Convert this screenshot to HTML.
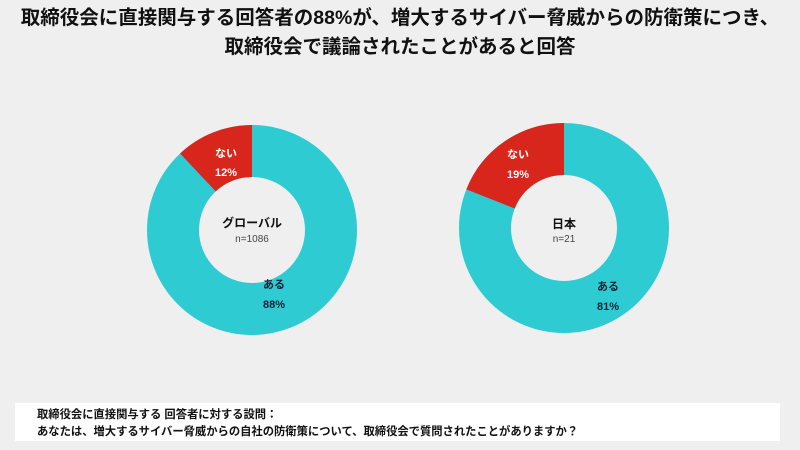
<!DOCTYPE html>
<html><head><meta charset="utf-8"><style>
body{margin:0;width:800px;height:450px;background:#efefef;overflow:hidden;font-family:"Liberation Sans","Noto Sans CJK JP",sans-serif;position:relative}
.t{position:absolute;left:0;width:800px;text-align:center;font-weight:bold;font-size:19.5px;color:#111;line-height:24px}
.box{position:absolute;left:15px;top:403px;width:765px;height:38px;background:#fff}
.box div{position:absolute;left:22px;font-size:11.3px;font-weight:bold;color:#111;white-space:nowrap}
</style></head><body>
<div class="t" style="top:6px">取締役会に直接関与する回答者の88%が、増大するサイバー脅威からの防衛策につき、</div>
<div class="t" style="top:35px">取締役会で議論されたことがあると回答</div>
<svg width="800" height="400" style="position:absolute;left:0;top:0" font-family="Liberation Sans, Noto Sans CJK JP, sans-serif" font-weight="bold" text-anchor="middle">
<g transform="translate(252,230)">
<circle r="79" fill="none" stroke="#2ecbd3" stroke-width="52"/>
<circle r="79" fill="none" stroke="#d9261c" stroke-width="52" stroke-dasharray="59.56 500" transform="rotate(-90) scale(1,-1)"/>
<text x="-26" y="-73" fill="#fff" font-size="11">ない</text>
<text x="-26" y="-54" fill="#fff" font-size="11">12%</text>
<text x="0" y="-3" fill="#111" font-size="12">グローバル</text>
<text x="0" y="12" fill="#444" font-size="10" font-weight="normal">n=1086</text>
<text x="22" y="58" fill="#123" font-size="11">ある</text>
<text x="22" y="78" fill="#123" font-size="11">88%</text>
</g>
<g transform="translate(564,228)">
<circle r="79" fill="none" stroke="#2ecbd3" stroke-width="52"/>
<circle r="79" fill="none" stroke="#d9261c" stroke-width="52" stroke-dasharray="94.31 500" transform="rotate(-90) scale(1,-1)"/>
<text x="-46" y="-70" fill="#fff" font-size="11">ない</text>
<text x="-46" y="-50" fill="#fff" font-size="11">19%</text>
<text x="0" y="0" fill="#111" font-size="12">日本</text>
<text x="0" y="14" fill="#444" font-size="10" font-weight="normal">n=21</text>
<text x="44" y="62" fill="#123" font-size="11">ある</text>
<text x="44" y="82" fill="#123" font-size="11">81%</text>
</g>
</svg>
<div class="box">
<div style="top:3px">取締役会に直接関与する 回答者に対する設問：</div>
<div style="top:20px">あなたは、増大するサイバー脅威からの自社の防衛策について、取締役会で質問されたことがありますか？</div>
</div>
</body></html>
